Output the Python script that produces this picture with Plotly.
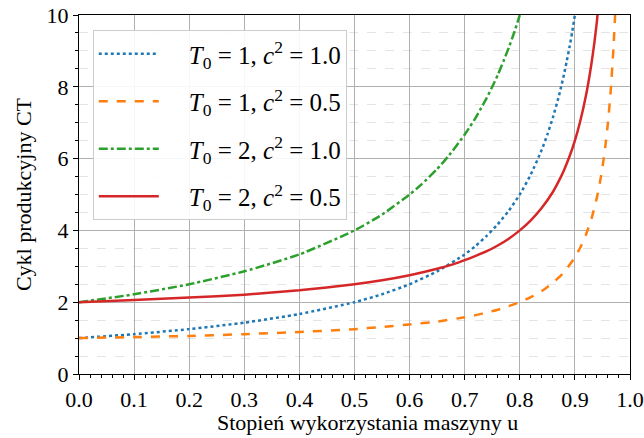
import plotly.graph_objects as go

# Values
u_blue = [0, 0.1, 0.2, 0.3, 0.4, 0.5, 0.55, 0.6, 0.65, 0.7, 0.72, 0.74, 0.76, 0.78, 0.8, 0.82, 0.84, 0.85, 0.86, 0.87, 0.875, 0.88, 0.885, 0.89, 0.895, 0.9]
ct_blue = [1.0, 1.11, 1.25, 1.43, 1.67, 2.0, 2.22, 2.5, 2.86, 3.33, 3.57, 3.85, 4.17, 4.55, 5.0, 5.56, 6.25, 6.67, 7.14, 7.69, 8.0, 8.33, 8.70, 9.09, 9.52, 10.0]

u_orange = [0, 0.1, 0.2, 0.3, 0.4, 0.5, 0.55, 0.6, 0.65, 0.7, 0.72, 0.74, 0.76, 0.78, 0.8, 0.82, 0.84, 0.86, 0.88, 0.9, 0.91, 0.92, 0.93, 0.94, 0.945, 0.95, 0.955, 0.96, 0.965, 0.97, 0.973]
ct_orange = [1.0, 1.03, 1.06, 1.11, 1.17, 1.25, 1.31, 1.38, 1.46, 1.58, 1.64, 1.71, 1.79, 1.89, 2.0, 2.14, 2.31, 2.54, 2.83, 3.25, 3.53, 3.88, 4.32, 4.92, 5.30, 5.75, 6.31, 7.0, 7.89, 9.08, 10.0]

u_green = [0, 0.1, 0.2, 0.3, 0.4, 0.5, 0.55, 0.6, 0.62, 0.65, 0.67, 0.7, 0.71, 0.72, 0.73, 0.74, 0.75, 0.76, 0.77, 0.78, 0.79, 0.8]
ct_green = [2.0, 2.22, 2.5, 2.86, 3.33, 4.0, 4.44, 5.0, 5.26, 5.71, 6.06, 6.67, 6.90, 7.14, 7.41, 7.69, 8.0, 8.33, 8.70, 9.09, 9.52, 10.0]

u_red = [0, 0.1, 0.2, 0.3, 0.4, 0.5, 0.55, 0.6, 0.65, 0.68, 0.7, 0.72, 0.74, 0.76, 0.78, 0.8, 0.82, 0.84, 0.86, 0.87, 0.88, 0.89, 0.9, 0.91, 0.92, 0.925, 0.93, 0.935, 0.94, 0.941]
ct_red = [2.0, 2.06, 2.13, 2.21, 2.33, 2.5, 2.61, 2.75, 2.93, 3.06, 3.17, 3.29, 3.42, 3.58, 3.77, 4.0, 4.28, 4.63, 5.07, 5.35, 5.67, 6.05, 6.5, 7.06, 7.75, 8.17, 8.64, 9.19, 9.83, 10.0]

labels = [
    "<i>T</i><sub>0</sub> = 1, <i>c</i><sup>2</sup> = 1.0",
    "<i>T</i><sub>0</sub> = 1, <i>c</i><sup>2</sup> = 0.5",
    "<i>T</i><sub>0</sub> = 2, <i>c</i><sup>2</sup> = 1.0",
    "<i>T</i><sub>0</sub> = 2, <i>c</i><sup>2</sup> = 0.5",
]
x_ticks = [0.0, 0.1, 0.2, 0.3, 0.4, 0.5, 0.6, 0.7, 0.8, 0.9, 1.0]
y_ticks = [0, 2, 4, 6, 8, 10]
x_title = "Stopień wykorzystania maszyny u"
y_title = "Cykl produkcyjny CT"

series = [
    (u_blue, ct_blue, "#1f77b4", "dot"),
    (u_orange, ct_orange, "#ff7f0e", "dash"),
    (u_green, ct_green, "#2ca02c", "dashdot"),
    (u_red, ct_red, "#d62728", "solid"),
]

FONT = "Liberation Serif, Times New Roman, serif"
PAD = "\u00a0\u00a0\u00a0\u00a0"

fig = go.Figure()
for i, ((x, y, col, dash), lab) in enumerate(zip(series, labels)):
    fig.add_trace(go.Scatter(
        x=x, y=y, mode="lines", name=PAD + lab, legendgroup=f"g{i}",
        line=dict(color=col, width=2.5, dash=dash, shape="spline", smoothing=0.5),
    ))

fig.update_layout(
    width=644, height=438,
    margin=dict(l=79, r=14, t=15, b=64),
    paper_bgcolor="white", plot_bgcolor="white",
    font=dict(family=FONT, size=22, color="black"),
    legend=dict(
        x=0.025, y=0.958, xanchor="left", yanchor="top",
        bgcolor="rgba(255,255,255,0.9)", bordercolor="#cccccc", borderwidth=1,
        font=dict(family=FONT, size=25), tracegroupgap=12, itemwidth=60,
    ),
    showlegend=True,
    annotations=[dict(
        text=x_title, xref="paper", yref="paper", x=0.5245, y=-0.135,
        xanchor="center", yanchor="middle", showarrow=False,
        font=dict(family=FONT, size=22, color="black"),
    )],
)
fig.update_xaxes(
    range=[0, 1], tickvals=x_ticks, tickformat=".1f", automargin=False,
    showline=True, linecolor="black", linewidth=1.2, mirror=True,
    ticks="outside", ticklen=5, tickcolor="black",
    showgrid=True, gridcolor="#b0b0b0", gridwidth=1,
    zeroline=False, ticklabeloverflow="allow",
    minor=dict(dtick=0.02, ticks="outside", ticklen=3, tickcolor="black", showgrid=False),
)
fig.update_yaxes(
    range=[0, 10], tickvals=y_ticks, automargin=False,
    showline=True, linecolor="black", linewidth=1.2, mirror=True,
    ticks="outside", ticklen=5, tickcolor="black",
    showgrid=True, gridcolor="#b0b0b0", gridwidth=1,
    zeroline=False, ticklabeloverflow="allow",
    minor=dict(dtick=0.5, ticks="outside", ticklen=3, tickcolor="black",
               showgrid=True, gridcolor="#e4e4e4", griddash="dash", gridwidth=1),
    title=dict(text=y_title, standoff=8, font=dict(size=22)),
)

fig.write_html("out.html", config={"displayModeBar": False},
               post_script="document.body.style.margin='0';")
